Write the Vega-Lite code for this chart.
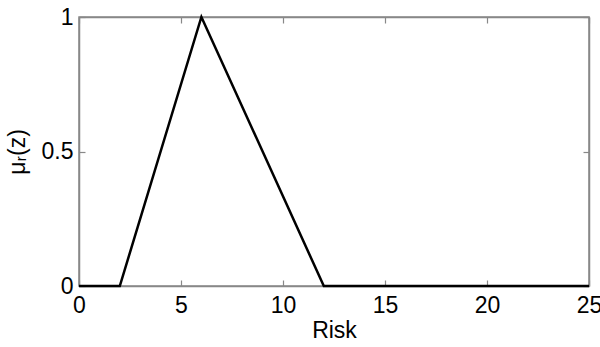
{
  "$schema": "https://vega.github.io/schema/vega-lite/v6.json",
  "autosize": "none",
  "width": 510,
  "height": 269,
  "padding": {"left": 79, "top": 17, "right": 11, "bottom": 61},
  "background": "white",
  "config": {
    "view": {"stroke": "#888888", "strokeWidth": 1.5},
    "font": "Liberation Sans",
    "axis": {
      "domainColor": "#888888",
      "domainWidth": 1.5,
      "tickColor": "#888888",
      "tickWidth": 1.2,
      "tickSize": -6,
      "grid": false,
      "labelFont": "Liberation Sans",
      "labelFontSize": 23,
      "labelColor": "black",
      "titleFont": "Liberation Sans",
      "titleFontSize": 23,
      "titleFontWeight": "normal",
      "titleColor": "black"
    }
  },
  "data": {
    "values": [
      {"z": 0, "mu": 0},
      {"z": 2, "mu": 0},
      {"z": 6, "mu": 1},
      {"z": 12, "mu": 0},
      {"z": 25, "mu": 0}
    ]
  },
  "layer": [
    {
      "mark": {"type": "line", "color": "black", "strokeWidth": 2.5, "clip": false},
      "encoding": {
        "x": {
          "field": "z", "type": "quantitative",
          "scale": {"domain": [0, 25], "nice": false, "zero": false},
          "axis": {"orient": "bottom", "title": "Risk", "values": [0, 5, 10, 15, 20, 25], "labelPadding": 14, "titlePadding": 2, "labelFlush": false}
        },
        "y": {
          "field": "mu", "type": "quantitative",
          "scale": {"domain": [0, 1], "nice": false},
          "axis": {"orient": "left", "title": "μᵣ(z)", "values": [0, 0.5, 1], "format": "~g", "labelPadding": 12, "titlePadding": 12, "labelFlush": false}
        }
      }
    },
    {
      "mark": {"type": "line", "opacity": 0},
      "encoding": {
        "x": {
          "field": "z", "type": "quantitative",
          "scale": {"domain": [0, 25], "nice": false, "zero": false},
          "axis": {"orient": "top", "title": null, "labels": false, "values": [0, 5, 10, 15, 20, 25]}
        },
        "y": {
          "field": "mu", "type": "quantitative",
          "scale": {"domain": [0, 1], "nice": false},
          "axis": {"orient": "right", "title": null, "labels": false, "values": [0, 0.5, 1]}
        }
      }
    }
  ],
  "resolve": {"axis": {"x": "independent", "y": "independent"}}
}
